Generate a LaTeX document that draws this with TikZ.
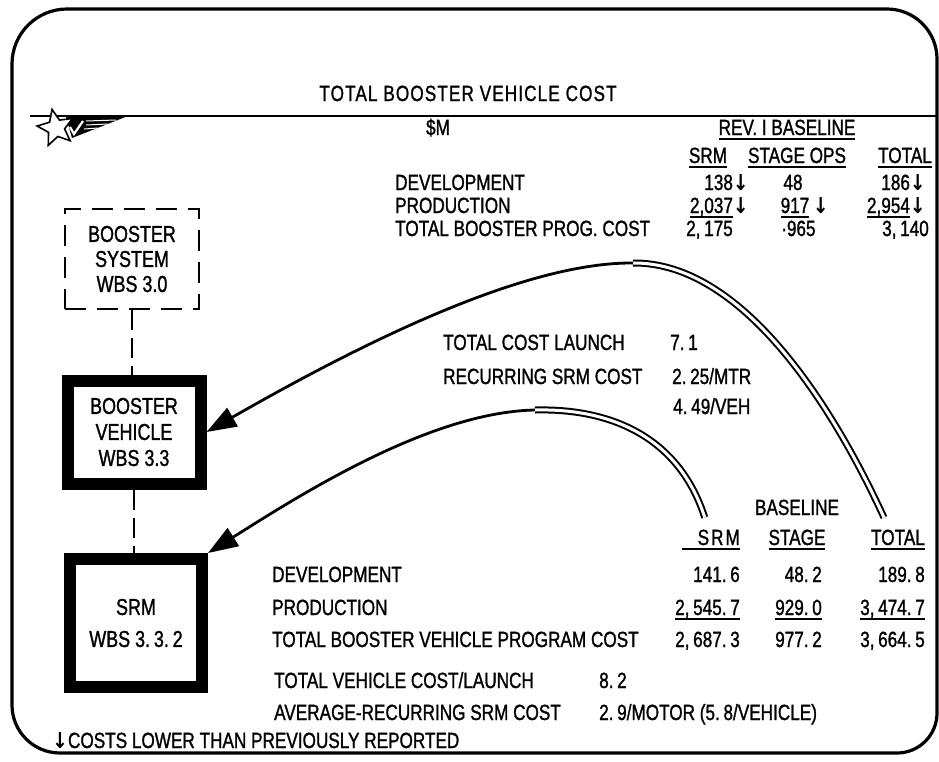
\documentclass[tikz,border=0pt]{standalone}
\usepackage{fontspec}
\setmainfont{Liberation Sans}[FakeStretch=0.78, FakeBold=1.2]
\newfontfamily\arrowfont{DejaVu Sans}[FakeStretch=0.86]
\usepackage{tikz}
\usetikzlibrary{arrows.meta,positioning,shapes.geometric}

\newcommand{\down}{{\arrowfont\bfseries ↓}}
\newcommand{\ulnum}[1]{\setbox0=\hbox{#1}\rlap{\rule[-5pt]{\wd0}{1.8pt}}\box0}

\begin{document}
\begin{tikzpicture}[x=1pt, y=-1pt,
    every node/.style={font=\fontsize{22}{25}\selectfont, inner sep=0pt},
    lbl/.style={anchor=base west},
    val/.style={anchor=base east},
    mid/.style={anchor=base},
    boxfont/.style={font=\fontsize{23}{25}\selectfont},
    sysbox/.style={draw, boxfont, line width=2.8pt, dash pattern=on 21pt off 11pt, minimum width=134pt, minimum height=100pt, align=center},
    wbsbox/.style={draw, boxfont, line width=12pt, align=center},
    dashlink/.style={line width=2.8pt, dash pattern=on 20pt off 8pt},
    pipe/.style={double, line width=2pt, double distance=3pt},
    arrow/.style={-{Triangle[length=30pt,width=21pt]}, line width=2.8pt}
]
\useasboundingbox (0,0) rectangle (939,761);

% frame and header rule
\draw[line width=3.2pt] (474,9) [rounded corners=55pt] -| (12,381)
    [rounded corners=48pt] |- (474,753)
    [rounded corners=40pt] -| (937,381)
    [rounded corners=50pt] |- (474,9);
\draw[line width=2pt] (30,116) -- (937,116);

% logo
\fill (66,117) -- (128,116) -- (72,138) -- cycle;
\draw[white, line width=1pt] (86,121) -- (116,120) (86,125) -- (108,124) (84,129) -- (98,128);
\draw[white, line width=2.2pt] (70,127) -- (74,134) -- (83,121);
\node[star, star points=5, star point ratio=2.2, draw, fill=white, line width=1.6pt, minimum size=38pt, rotate=12] (logo) at (56,128) {};

% title and top table
\node[mid] (title) at (468,101) {\addfontfeature{LetterSpace=5}TOTAL BOOSTER VEHICLE COST};
\node[mid] (unit) at (438,135) {\$M};
\node[mid] (rev) at (787,135) {\ulnum{REV. I BASELINE}};

\node[mid] (srmA) at (708,163) {\ulnum{SRM}};
\node[mid] (opsA) at (797,163) {\ulnum{STAGE OPS}};
\node[mid] (totA) at (905,163) {\ulnum{TOTAL}};

\node[lbl] (devA) at (395,190) {DEVELOPMENT};
\node[lbl] (prodA) at (395,213) {PRODUCTION};
\node[lbl] (progA) at (395,236) {TOTAL BOOSTER PROG. COST};

\node[val] (devA1) at (749,190) {138\down};
\node[mid] (devA2) at (793,190) {48};
\node[val] (devA3) at (926,190) {186\down};
\node[val] (prodA1) at (749,213) {\ulnum{2,037}\down};
\node[val] (prodA2) at (829,213) {\ulnum{917}\,\down};
\node[val] (prodA3) at (926,213) {\ulnum{2,954}\down};
\node[lbl] (progA1) at (686,236) {2,\,175};
\node[lbl] (progA2) at (781,236) {·965};
\node[lbl] (progA3) at (882,236) {3,\,140};

% middle figures
\node[lbl] (launchA) at (443,350) {TOTAL COST LAUNCH};
\node[lbl] (launchV) at (670,350) {7.\,1};
\node[lbl] (recA) at (443,384) {RECURRING SRM COST};
\node[lbl] (recV1) at (672,384) {2.\,25/MTR};
\node[lbl] (recV2) at (673,414) {4.\,49/VEH};

% wbs boxes
\node[sysbox] (sys) at (132,259) {BOOSTER\\SYSTEM\\WBS 3.0};
\node[wbsbox, minimum width=133pt, minimum height=103pt] (veh) at (134,432) {BOOSTER\\[1pt]VEHICLE\\[1pt]WBS 3.3};
\node[wbsbox, minimum width=132pt, minimum height=128pt] (srm) at (136,623) {SRM\\[7pt]WBS 3.\,3.\,2};

\draw[dashlink] (sys.south) -- (sys.south |- veh.north);
\draw[dashlink] (veh.south) -- (veh.south |- srm.north);

% bottom table
\node[mid] (baseB) at (797,515) {BASELINE};
\node[val] (srmB) at (740,545) {\ulnum{\kern16pt S\kern2pt R\kern2pt M}};
\node[mid] (stageB) at (797,545) {\ulnum{STAGE}};
\node[val] (totB) at (925,545) {\ulnum{TOTAL}};

\node[lbl] (devB) at (272,582) {DEVELOPMENT};
\node[val] (devB1) at (740,582) {141.\,6};
\node[val] (devB2) at (822,582) {48.\,2};
\node[val] (devB3) at (925,582) {189.\,8};
\node[lbl] (prodB) at (272,615) {PRODUCTION};
\node[val] (prodB1) at (740,615) {\ulnum{2,\,545.\,7}};
\node[val] (prodB2) at (822,615) {\ulnum{929.\,0}};
\node[val] (prodB3) at (925,615) {\ulnum{3,\,474.\,7}};
\node[lbl] (progB) at (272,647) {TOTAL BOOSTER VEHICLE PROGRAM COST};
\node[val] (progB1) at (740,647) {2,\,687.\,3};
\node[val] (progB2) at (822,647) {977.\,2};
\node[val] (progB3) at (925,647) {3,\,664.\,5};
\node[lbl] (launchB) at (274,688) {TOTAL VEHICLE COST/LAUNCH};
\node[lbl] (launchBV) at (599,688) {8.\,2};
\node[lbl] (avgB) at (274,720) {AVERAGE-RECURRING SRM COST};
\node[lbl] (avgBV) at (599,720) {2.\,9/MOTOR (5.\,8/VEHICLE)};
\node[lbl] (note) at (52,748) {\down COSTS LOWER THAN PREVIOUSLY REPORTED};

% links from the tables to the boxes
\coordinate (topbend) at (633,263);
\coordinate (lowbend) at (535,410);
\draw[pipe] ([xshift=-14pt,yshift=12pt]totB.north) .. controls (830,400) and (740,262) .. (topbend);
\draw[arrow] (topbend) .. controls (520,262) and (350,350) .. (veh.east);
\draw[pipe] ([xshift=-6pt,yshift=12pt]srmB.north) .. controls (680,440) and (615,408) .. (lowbend);
\draw[arrow] (lowbend) .. controls (430,412) and (300,495) .. (srm.north east);

\end{tikzpicture}
\end{document}
